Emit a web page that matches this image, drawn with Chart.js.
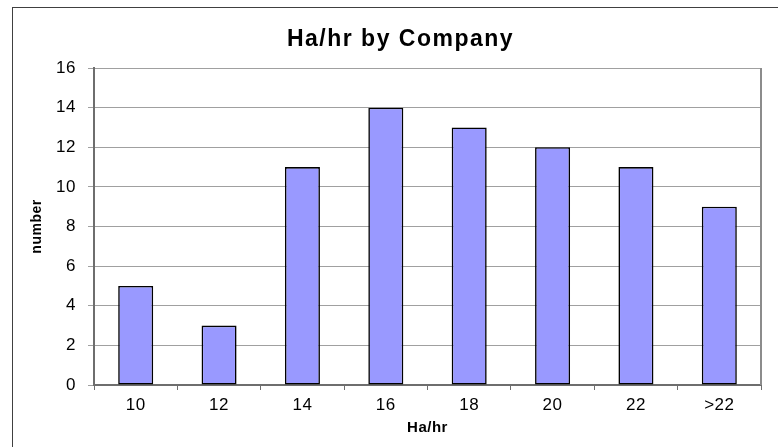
<!DOCTYPE html>
<html>
<head>
<meta charset="utf-8">
<script src="https://cdn.jsdelivr.net/npm/chart.js@4/dist/chart.umd.min.js"></script>
<style>
  html, body { margin: 0; padding: 0; background: #fff; overflow: hidden; }
  #frame {
    position: absolute; left: 12px; top: 7px;
    width: 790px; height: 460px;
    border-left: 1px solid #404040; border-top: 1px solid #404040;
  }
  #chart { position: absolute; left: 0; top: 0; }
</style>
</head>
<body>
<div id="frame"><canvas id="chart" width="777" height="439"></canvas></div>
<script>
const categories = ['10', '12', '14', '16', '18', '20', '22', '>22'];
const counts = [5, 3, 11, 14, 13, 12, 11, 9];
const yTicks = [0, 2, 4, 6, 8, 10, 12, 14, 16];

const FONT = "'Liberation Sans', Arial, sans-serif";

// Excel-style text is a little spread out; the title is wider still and
// centred on the whole frame rather than the padded box
const spacing = {
  id: 'spacing',
  afterInit(chart) {
    const tb = chart.titleBlock;
    if (!tb) return;
    const draw = tb.draw.bind(tb);
    tb.draw = (area) => {
      chart.ctx.save();
      chart.ctx.letterSpacing = '1.5px';
      chart.ctx.translate(13.5, 0);
      draw(area);
      chart.ctx.restore();
    };
  },
  beforeDraw(chart) {
    chart.ctx.letterSpacing = '0.5px';
  }
};

// right edge of the plot area
const plotEdge = {
  id: 'plotEdge',
  beforeDatasetsDraw(chart) {
    const { ctx, chartArea: a } = chart;
    ctx.save();
    ctx.strokeStyle = '#8c8c8c';
    ctx.lineWidth = 2;
    ctx.beginPath();
    ctx.moveTo(a.right, a.top);
    ctx.lineTo(a.right, a.bottom);
    ctx.stroke();
    ctx.restore();
  }
};

const ctx = document.getElementById('chart').getContext('2d');
new Chart(ctx, {
  type: 'bar',
  data: {
    labels: categories,
    datasets: [{
      label: 'number',
      data: counts,
      backgroundColor: '#9999ff',
      borderColor: '#000000',
      borderWidth: 1.6,
      borderSkipped: false,
      barPercentage: 0.42,
      categoryPercentage: 1
    }]
  },
  options: {
    responsive: false,
    animation: false,
    layout: { padding: { left: 0, right: 29, top: 0, bottom: 0 } },
    plugins: {
      legend: { display: false },
      tooltip: { enabled: false },
      title: {
        display: true,
        text: 'Ha/hr by Company',
        color: '#000',
        font: { family: FONT, size: 23, weight: 'bold' },
        padding: { top: 18.2, bottom: 14.2 }
      }
    },
    scales: {
      x: {
        afterFit: s => { s.height = 62; },
        grid: {
          drawOnChartArea: false,
          drawTicks: true,
          tickLength: 5,
          color: '#6e6e6e',
          offset: true
        },
        border: { color: '#6e6e6e', width: 2 },
        ticks: {
          color: '#000',
          padding: 5,
          font: { family: FONT, size: 17 }
        },
        title: {
          display: true,
          text: 'Ha/hr',
          color: '#000',
          font: { family: FONT, size: 15, weight: 'bold' },
          padding: { top: 4, bottom: 10.5 }
        }
      },
      y: {
        min: 0,
        max: 16,
        afterFit: s => { s.width = 81; },
        afterBuildTicks: s => { s.ticks = yTicks.map(v => ({ value: v })); },
        grid: {
          color: '#a0a0a0',
          lineWidth: 1,
          drawTicks: true,
          tickLength: 6
        },
        border: { color: '#6e6e6e', width: 2 },
        ticks: {
          color: '#000',
          padding: 12,
          font: { family: FONT, size: 17 }
        },
        title: {
          display: true,
          text: 'number',
          color: '#000',
          font: { family: FONT, size: 14, weight: 'bold' },
          padding: { top: 15.6, bottom: 0 }
        }
      }
    }
  },
  plugins: [spacing, plotEdge]
});
</script>
</body>
</html>
